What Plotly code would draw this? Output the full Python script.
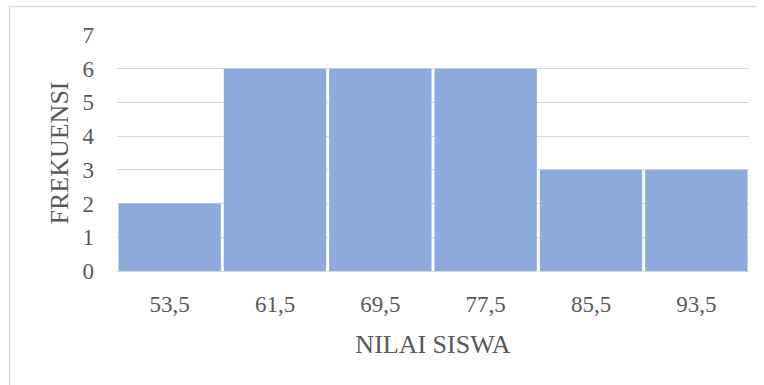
import plotly.graph_objects as go

# Class midpoints of student scores and their frequencies
nilai_tengah = ["53,5", "61,5", "69,5", "77,5", "85,5", "93,5"]
frekuensi = [2, 6, 6, 6, 3, 3]
y_ticks = [0, 1, 2, 3, 4, 5, 6, 7]

W, H = 764, 385
ML, MR, MT, MB = 117, 15, 35, 114
pw, ph = W - ML - MR, H - MT - MB


def px_to_paper_x(px):
    return (px - ML) / pw


def px_to_paper_y(py):
    return (H - MB - py) / ph


serif = "Liberation Serif, Times New Roman, serif"
text_col = "#595959"

fig = go.Figure(
    go.Bar(
        x=nilai_tengah,
        y=frekuensi,
        marker=dict(color="#8faadc", line=dict(width=0)),
        hoverinfo="x+y",
    )
)

fig.update_layout(
    width=W,
    height=H,
    margin=dict(l=ML, r=MR, t=MT, b=MB),
    paper_bgcolor="white",
    plot_bgcolor="white",
    bargap=0.028,
    showlegend=False,
    font=dict(family=serif, color=text_col, size=23),
    xaxis=dict(
        showgrid=False,
        showline=False,
        ticks="",
        tickfont=dict(size=23, family=serif, color=text_col),
        ticklabelstandoff=17,
        title=dict(text="NILAI SISWA", font=dict(size=26, family=serif, color=text_col), standoff=18),
    ),
    yaxis=dict(
        range=[0, 7],
        tickvals=y_ticks,
        showgrid=True,
        gridcolor="#d9d9d9",
        gridwidth=1,
        zeroline=True,
        zerolinecolor="#d9d9d9",
        zerolinewidth=1,
        showline=False,
        ticks="",
        tickfont=dict(size=23, family=serif, color=text_col),
        ticklabelstandoff=22,
        title=dict(text="FREKUENSI", font=dict(size=26, family=serif, color=text_col), standoff=6),
    ),
    shapes=[
        # chart area border (left and top edges)
        dict(type="line", xref="paper", yref="paper",
             x0=px_to_paper_x(9.5), x1=px_to_paper_x(9.5),
             y0=px_to_paper_y(6.5), y1=px_to_paper_y(H + 2),
             line=dict(color="#d9d9d9", width=1.5)),
        dict(type="line", xref="paper", yref="paper",
             x0=px_to_paper_x(9), x1=px_to_paper_x(756),
             y0=px_to_paper_y(6.5), y1=px_to_paper_y(6.5),
             line=dict(color="#d9d9d9", width=1.5)),
    ],
)

fig.write_html("out.html")
